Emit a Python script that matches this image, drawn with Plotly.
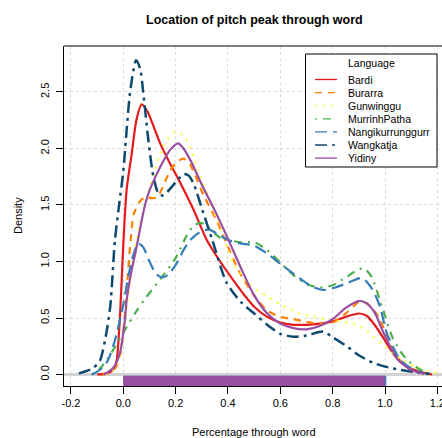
import plotly.graph_objects as go

# ---------------- data ----------------
languages = ["Bardi", "Burarra", "Gunwinggu", "MurrinhPatha",
             "Nangikurrunggurr", "Wangkatja", "Yidiny"]

bardi_x = [-0.10, -0.06, -0.035, -0.025, -0.013, 0.0, 0.013, 0.032, 0.05, 0.07, 0.092, 0.115,
           0.14, 0.178, 0.217, 0.268, 0.319, 0.37, 0.42, 0.46, 0.5, 0.55, 0.6, 0.65, 0.7, 0.75,
           0.8, 0.85, 0.9, 0.93, 0.96, 1.0, 1.03, 1.06, 1.1, 1.15, 1.18]
bardi_y = [0.0, 0.01, 0.05, 0.13, 0.5, 1.15, 1.64, 1.95, 2.25, 2.39, 2.33, 2.2,
           2.05, 1.87, 1.70, 1.46, 1.19, 1.0, 0.836, 0.71, 0.6, 0.51, 0.46, 0.44, 0.44, 0.45,
           0.47, 0.51, 0.54, 0.52, 0.44, 0.3, 0.19, 0.11, 0.05, 0.015, 0.0]

burarra_x = [-0.08, -0.06, -0.03, -0.01, 0.005, 0.018, 0.028, 0.04, 0.06, 0.083, 0.11, 0.13,
             0.155, 0.178, 0.205, 0.229, 0.25, 0.268, 0.306, 0.357, 0.4, 0.446, 0.5, 0.548,
             0.6, 0.65, 0.7, 0.75, 0.8, 0.85, 0.9, 0.93, 0.96, 0.981, 1.01, 1.04, 1.08, 1.12, 1.16]
burarra_y = [0.0, 0.01, 0.06, 0.2, 0.5, 0.9, 1.19, 1.42, 1.52, 1.57, 1.56, 1.57,
             1.68, 1.80, 1.88, 1.91, 1.88, 1.80, 1.59, 1.36, 1.13, 0.895, 0.7, 0.57,
             0.51, 0.49, 0.465, 0.45, 0.46, 0.54, 0.64, 0.63, 0.56, 0.484, 0.32, 0.18, 0.07, 0.025, 0.005]

gunwinggu_x = [-0.07, -0.04, -0.015, 0.0, 0.02, 0.04, 0.06, 0.083, 0.12, 0.153, 0.19, 0.22,
               0.245, 0.287, 0.357, 0.42, 0.48, 0.55, 0.6, 0.675, 0.75, 0.8, 0.866, 0.924,
               0.955, 1.0, 1.045, 1.096, 1.16, 1.2]
gunwinggu_y = [0.0, 0.04, 0.15, 0.35, 0.7, 1.05, 1.3, 1.5, 1.8, 2.02, 2.14, 2.13,
               2.06, 1.80, 1.38, 0.99, 0.8, 0.69, 0.62, 0.54, 0.5, 0.48, 0.455, 0.40,
               0.337, 0.25, 0.16, 0.09, 0.035, 0.01]

murrinhpatha_x = [-0.12, -0.09, -0.063, -0.03, 0.0, 0.05, 0.08, 0.14, 0.2, 0.24, 0.27, 0.3,
                  0.33, 0.37, 0.4, 0.45, 0.5, 0.55, 0.6, 0.65, 0.7, 0.75, 0.8, 0.85, 0.9,
                  0.92, 0.95, 0.98, 1.0, 1.03, 1.08, 1.13, 1.17]
murrinhpatha_y = [0.0, 0.05, 0.13, 0.25, 0.37, 0.56, 0.66, 0.84, 1.03, 1.22, 1.32, 1.34,
                  1.29, 1.21, 1.19, 1.17, 1.17, 1.1, 0.99, 0.88, 0.8, 0.77, 0.79, 0.86, 0.93,
                  0.94, 0.86, 0.66, 0.52, 0.32, 0.14, 0.05, 0.01]

nangik_x = [-0.12, -0.09, -0.06, -0.03, 0.0, 0.02, 0.04, 0.057, 0.075, 0.1, 0.125, 0.147,
            0.17, 0.2, 0.23, 0.26, 0.3, 0.33, 0.37, 0.4, 0.446, 0.5, 0.55, 0.6, 0.675, 0.72,
            0.764, 0.81, 0.854, 0.9, 0.917, 0.95, 0.981, 1.006, 1.03, 1.057, 1.108, 1.15]
nangik_y = [0.0, 0.04, 0.12, 0.32, 0.62, 0.88, 1.07, 1.16, 1.13, 1.0, 0.89, 0.86,
            0.88, 0.97, 1.1, 1.2, 1.27, 1.28, 1.23, 1.19, 1.16, 1.14, 1.07, 0.98, 0.85, 0.78,
            0.748, 0.77, 0.807, 0.85, 0.85, 0.76, 0.60, 0.37, 0.25, 0.13, 0.044, 0.01]

wangkatja_x = [-0.17, -0.12, -0.09, -0.07, -0.05, -0.032, -0.015, 0.0, 0.026, 0.049, 0.065,
               0.076, 0.096, 0.115, 0.135, 0.153, 0.185, 0.21, 0.232, 0.25, 0.27, 0.3, 0.34,
               0.395, 0.45, 0.5, 0.55, 0.6, 0.65, 0.7, 0.764, 0.8, 0.854, 0.9, 0.955, 1.0,
               1.06, 1.12, 1.17]
wangkatja_y = [0.01, 0.05, 0.12, 0.3, 0.6, 1.19, 1.52, 1.8, 2.5, 2.78, 2.7,
               2.5, 2.07, 1.75, 1.6, 1.585, 1.66, 1.73, 1.775, 1.76, 1.68, 1.47, 1.19,
               0.81, 0.64, 0.54, 0.44, 0.36, 0.335, 0.345, 0.38, 0.33, 0.25, 0.17, 0.103, 0.07,
               0.04, 0.02, 0.005]

yidiny_x = [-0.074, -0.038, -0.013, 0.006, 0.013, 0.03, 0.05, 0.07, 0.083, 0.102, 0.125,
            0.153, 0.18, 0.21, 0.23, 0.26, 0.3, 0.35, 0.4, 0.45, 0.5, 0.55, 0.6, 0.65, 0.7,
            0.75, 0.8, 0.85, 0.9, 0.93, 0.96, 1.0, 1.05, 1.1, 1.15]
yidiny_y = [0.0, 0.06, 0.19, 0.48, 0.66, 0.9, 1.12, 1.36, 1.5, 1.64, 1.76,
            1.89, 1.99, 2.045, 2.0, 1.88, 1.68, 1.45, 1.2, 0.94, 0.7, 0.54, 0.45, 0.41, 0.40,
            0.43, 0.49, 0.59, 0.65, 0.63, 0.55, 0.34, 0.13, 0.04, 0.005]

# range bars drawn under the axis (start, end of word)
bar_languages = ["Nangikurrunggurr", "Yidiny"]
bar_start = [0.0, 0.0]
bar_end = [1.005, 1.0]

x_tickvals = [-0.2, 0.0, 0.2, 0.4, 0.6, 0.8, 1.0, 1.2]
x_ticktext = ["-0.2", "0.0", "0.2", "0.4", "0.6", "0.8", "1.0", "1.2"]
y_tickvals = [0.0, 0.5, 1.0, 1.5, 2.0, 2.5]
y_ticktext = ["0.0", "0.5", "1.0", "1.5", "2.0", "2.5"]

# ---------------- styles ----------------
series_x = [bardi_x, burarra_x, gunwinggu_x, murrinhpatha_x, nangik_x, wangkatja_x, yidiny_x]
series_y = [bardi_y, burarra_y, gunwinggu_y, murrinhpatha_y, nangik_y, wangkatja_y, yidiny_y]
colors = {"Bardi": "#E41A1C", "Burarra": "#FF7F00", "Gunwinggu": "#FFFF33",
          "MurrinhPatha": "#4DAF4A", "Nangikurrunggurr": "#377EB8",
          "Wangkatja": "#0E4A6F", "Yidiny": "#984EA3"}
dashes = {"Bardi": "solid", "Burarra": "7px,6px", "Gunwinggu": "2px,6px",
          "MurrinhPatha": "2px,6px,8px,6px", "Nangikurrunggurr": "12px,6px",
          "Wangkatja": "12px,5px,3px,5px", "Yidiny": "solid"}
widths = {"Bardi": 2.2, "Burarra": 2.2, "Gunwinggu": 2.2, "MurrinhPatha": 2.2,
          "Nangikurrunggurr": 2.2, "Wangkatja": 2.5, "Yidiny": 2.2}

FONT = "Liberation Sans, Arial, sans-serif"
W, H = 442, 438
L, R, T, B = 64, 0, 46, 52
PW, PH = W - L - R, H - T - B


def xp(px):
    return (px - L) / PW


def yp(py):
    return (H - B - py) / PH


fig = go.Figure()

# bars below zero
bar_bottom = -0.2
for lang, s, e in zip(bar_languages, bar_start, bar_end):
    fig.add_trace(go.Scatter(
        x=[s, e, e, s, s], y=[-0.012, -0.012, bar_bottom, bar_bottom, -0.012],
        fill="toself", fillcolor=colors[lang], mode="lines",
        line=dict(width=0, color=colors[lang]), hoverinfo="skip", showlegend=False))

for lang, xs, ys in zip(languages, series_x, series_y):
    fig.add_trace(go.Scatter(
        x=xs, y=ys, mode="lines", name=lang,
        line=dict(color=colors[lang], dash=dashes[lang], width=widths[lang],
                  shape="spline", smoothing=0.7),
        showlegend=False))

shapes = []
annotations = []
# top border of the box (right side is off-canvas)
shapes.append(dict(type="line", xref="paper", yref="paper", x0=0, x1=1.02, y0=1, y1=1,
                   line=dict(color="black", width=1)))

# manual legend
lg_left, lg_right, lg_top, lg_bottom = 305.5, 437, 54, 167
shapes.append(dict(type="rect", xref="paper", yref="paper",
                   x0=xp(lg_left), x1=xp(lg_right), y0=yp(lg_bottom), y1=yp(lg_top),
                   line=dict(color="black", width=1), fillcolor="white", layer="above"))
annotations.append(dict(text="Language", xref="paper", yref="paper", x=xp(371), y=yp(63),
                        showarrow=False, xanchor="center", yanchor="middle",
                        font=dict(family=FONT, size=10.5, color="black")))
row0, rowstep = 79.5, 13.1
for i, lang in enumerate(languages):
    yy = row0 + i * rowstep
    shapes.append(dict(type="line", xref="paper", yref="paper",
                       x0=xp(315), x1=xp(337), y0=yp(yy), y1=yp(yy), layer="above",
                       line=dict(color=colors[lang], dash=dashes[lang], width=1.3)))
    annotations.append(dict(text=lang, xref="paper", yref="paper", x=xp(345.5), y=yp(yy),
                            showarrow=False, xanchor="left", yanchor="middle",
                            font=dict(family=FONT, size=10.5, color="black")))

# titles
annotations.append(dict(text="<b>Location of pitch peak through word</b>", xref="paper",
                        yref="paper", x=xp(254), y=yp(20), showarrow=False,
                        xanchor="center", yanchor="middle",
                        font=dict(family=FONT, size=12.5, color="black")))
annotations.append(dict(text="Percentage through word", xref="paper", yref="paper",
                        x=xp(254), y=yp(432), showarrow=False, xanchor="center",
                        yanchor="middle", font=dict(family=FONT, size=11, color="black")))
annotations.append(dict(text="Density", xref="paper", yref="paper", x=xp(18), y=yp(216),
                        showarrow=False, xanchor="center", yanchor="middle", textangle=-90,
                        font=dict(family=FONT, size=11, color="black")))

x0 = -0.2266
x1 = (W - 123.3) / 261.7
fig.update_layout(
    width=W, height=H,
    margin=dict(l=L, r=R, t=T, b=B, pad=0),
    paper_bgcolor="white", plot_bgcolor="white",
    showlegend=False,
    shapes=shapes, annotations=annotations,
    font=dict(family=FONT, size=11, color="black"),
    xaxis=dict(range=[x0, x1], tickvals=x_tickvals, ticktext=x_ticktext,
               showline=True, linecolor="black", linewidth=1, mirror=False,
               ticks="outside", ticklen=7, tickcolor="black", tickwidth=1,
               ticklabeloverflow="allow",
               showgrid=True, gridcolor="#DADADA", griddash="dot", gridwidth=1,
               zeroline=False, tickfont=dict(family=FONT, size=11, color="black"),
               automargin=False),
    yaxis=dict(range=[-0.1018, 2.907], tickvals=y_tickvals, ticktext=y_ticktext,
               tickangle=-90, ticklabelstandoff=3,
               showline=True, linecolor="black", linewidth=1, mirror=False,
               ticks="outside", ticklen=7, tickcolor="black", tickwidth=1,
               showgrid=True, gridcolor="#DADADA", griddash="dot", gridwidth=1,
               zeroline=True, zerolinecolor="#D3D3D3", zerolinewidth=3,
               tickfont=dict(family=FONT, size=11, color="black"),
               automargin=False),
)

fig.write_html("out.html", config={"displayModeBar": False},
               post_script="document.body.style.margin='0px';document.body.style.overflow='hidden';")
